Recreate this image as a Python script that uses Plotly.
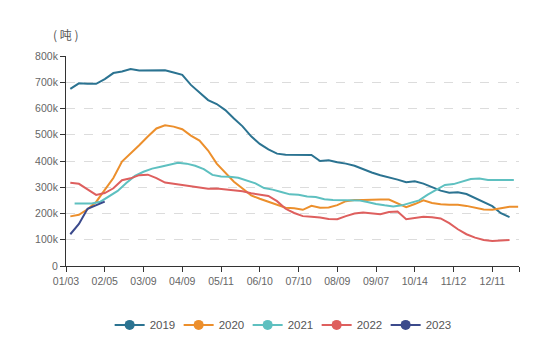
import plotly.graph_objects as go

# Weekly inventory (k tonnes) on a shared week-of-year index axis
tick_labels = ["01/03", "02/05", "03/09", "04/09", "05/11", "06/10",
               "07/10", "08/09", "09/07", "10/14", "11/12", "12/11"]
years = ["2019", "2020", "2021", "2022", "2023"]

v2019 = [675, 696, 694, 694, 712, 735, 741, 750, 745, 745, 746, 746, 737,
         728, 690, 662, 632, 617, 594, 562, 532, 494, 465, 444, 428, 424,
         423, 422, 423, 400, 403, 395, 390, 382, 368, 356, 346, 338, 329,
         319, 323, 314, 301, 287, 279, 281, 274, 259, 245, 228, 201, 186]
v2020 = [189, 195, 216, 244, 290, 335, 398, 428, 460, 493, 524, 536, 531,
         521, 497, 478, 440, 390, 356, 321, 295, 269, 256, 244, 231, 222,
         220, 214, 229, 222, 223, 232, 247, 251, 251, 253, 253, 253, 237,
         224, 236, 250, 240, 235, 233, 233, 229, 222, 215, 214, 219, 226, 226]
v2021 = [238, 238, 238, 245, 264, 286, 316, 343, 359, 371, 378, 385, 393,
         390, 382, 369, 347, 341, 340, 336, 326, 315, 297, 291, 282, 273,
         271, 265, 263, 254, 251, 250, 250, 250, 244, 236, 231, 227, 231,
         241, 250, 272, 291, 309, 312, 321, 331, 333, 328, 328, 329, 328]
v2022 = [317, 313, 292, 271, 278, 296, 327, 334, 346, 348, 335, 318, 313,
         308, 303, 297, 294, 295, 292, 288, 285, 277, 271, 267, 247, 218,
         202, 190, 188, 185, 179, 178, 190, 200, 204, 200, 197, 206, 208,
         178, 183, 188, 186, 181, 163, 140, 121, 108, 99, 95, 97, 99]
v2023 = [121, 160, 218, 232, 245]

series = [v2019, v2020, v2021, v2022, v2023]
first_week = [1, 1, 2, 1, 1]
week_step = 2
colors = ["#2b7391", "#ec8f2c", "#5ec0c0", "#de5f5e", "#3b4a8c"]

fig = go.Figure()
for name, vals, start, col in zip(years, series, first_week, colors):
    xs = [start + week_step * k for k in range(len(vals))]
    fig.add_trace(go.Scatter(
        x=xs, y=[v * 1000 for v in vals], mode="lines", name=name,
        line=dict(color=col, width=2), showlegend=False,
        hoverinfo="x+y"))
    # legend entry with a round marker on the line
    fig.add_trace(go.Scatter(
        x=[None], y=[None], mode="lines+markers", name=name,
        line=dict(color=col, width=2),
        marker=dict(color=col, size=10, symbol="circle")))

tick_step = 9
x_end = 105.2
tickvals = [tick_step * k for k in range(len(tick_labels))] + [x_end]
ticktext = tick_labels + [""]

fig.update_layout(
    width=550, height=342,
    margin=dict(l=66, r=31, t=56, b=76),
    paper_bgcolor="white", plot_bgcolor="white",
    font=dict(family="Liberation Sans, Arial, sans-serif", size=10.5, color="#666"),
    legend=dict(orientation="h", xref="container", yref="container",
                x=0.513, xanchor="center", y=0.05, yanchor="middle",
                font=dict(size=11.5, color="#555"),
                entrywidth=24, entrywidthmode="pixels",
                itemwidth=30),
    xaxis=dict(range=[0, x_end], tickmode="array", tickvals=tickvals,
               ticktext=ticktext, showgrid=False, zeroline=False,
               showline=True, linecolor="#333", linewidth=1,
               ticks="outside", ticklen=5, tickcolor="#333"),
    yaxis=dict(range=[0, 800000], dtick=100000, tickformat="~s",
               showgrid=True, gridcolor="#dcdcdc", griddash="dash",
               zeroline=False, showline=True, linecolor="#333",
               linewidth=1, ticks="outside", ticklen=5, tickcolor="#333"),
    annotations=[dict(text="( 吨 )", xref="paper", yref="paper",
                      x=0, y=1.1, xanchor="center", yanchor="middle",
                      showarrow=False,
                      font=dict(family="Noto Sans CJK SC", size=12, color="#555"))],
)

fig.write_html("out.html")
